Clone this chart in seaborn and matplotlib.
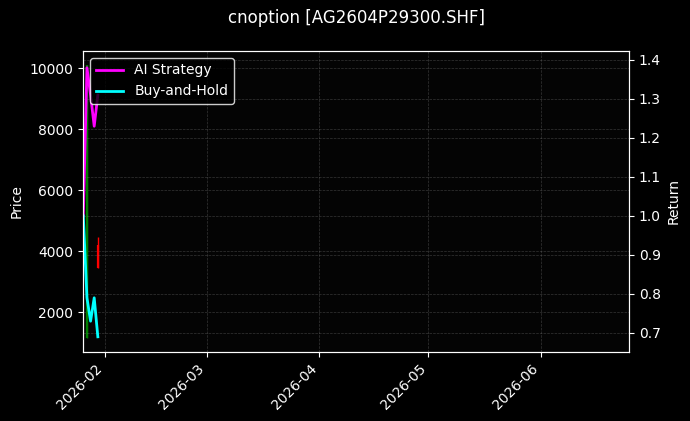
import numpy as np
import pandas as pd
import matplotlib
matplotlib.use('Agg')
import matplotlib.pyplot as plt
import matplotlib.dates as mdates
import seaborn as sns

TITLE = 'cnoption [AG2604P29300.SHF]'

# daily returns of both strategies
ret_dates = pd.to_datetime(['2026-01-26', '2026-01-27', '2026-01-28', '2026-01-29', '2026-01-30'])
ai_strategy = [1.00, 1.38, 1.31, 1.23, 1.31]
buy_hold = [1.00, 0.79, 0.73, 0.79, 0.69]

# candles
candle_dates = pd.to_datetime(['2026-01-27', '2026-01-30'])
c_open = [1150, 4200]
c_close = [10100, 3450]
c_high = [10110, 4460]
c_low = [1140, 3440]

plt.style.use('dark_background')
fig, ax = plt.subplots(figsize=(6.9, 4.21), dpi=100)
fig.subplots_adjust(left=0.1203, right=0.9116, top=0.8789, bottom=0.1639)
fig.patch.set_facecolor('black')
ax.set_facecolor('#040404')

up = np.array(c_close) >= np.array(c_open)
colors = np.where(up, 'green', 'red')
ax.vlines(candle_dates, c_low, c_high, colors=colors, linewidth=1)
ax.vlines(candle_dates, c_open, c_close, colors=colors, linewidth=1.6)
ax.set_ylim(690, 10560)
ax.set_ylabel('Price')
ax.grid(True, color='gray', linestyle='--', linewidth=0.5, alpha=0.4)

ax2 = ax.twinx()
df = pd.DataFrame({'date': ret_dates, 'AI Strategy': ai_strategy, 'Buy-and-Hold': buy_hold})
sns.lineplot(data=df, x='date', y='AI Strategy', ax=ax2, color='magenta', linewidth=2, label='AI Strategy')
sns.lineplot(data=df, x='date', y='Buy-and-Hold', ax=ax2, color='cyan', linewidth=2, label='Buy-and-Hold')
ax2.set_ylim(0.651, 1.423)
ax2.set_ylabel('Return')
ax2.grid(True, color='gray', linestyle='--', linewidth=0.5, alpha=0.4)

ax.set_xlim(pd.Timestamp('2026-01-25 22:00'), pd.Timestamp('2026-06-25 06:00'))
ax.xaxis.set_major_locator(mdates.MonthLocator())
ax.xaxis.set_major_formatter(mdates.DateFormatter('%Y-%m'))
ax2.set_xlabel('')
ax.set_xlabel('')
plt.setp(ax.get_xticklabels(), rotation=45, ha='right')

leg = ax2.legend(loc='upper left', facecolor='black', edgecolor='white', framealpha=0.8)

ax.set_title(TITLE, pad=20)

fig.savefig('out.png', dpi=100, facecolor=fig.get_facecolor())
